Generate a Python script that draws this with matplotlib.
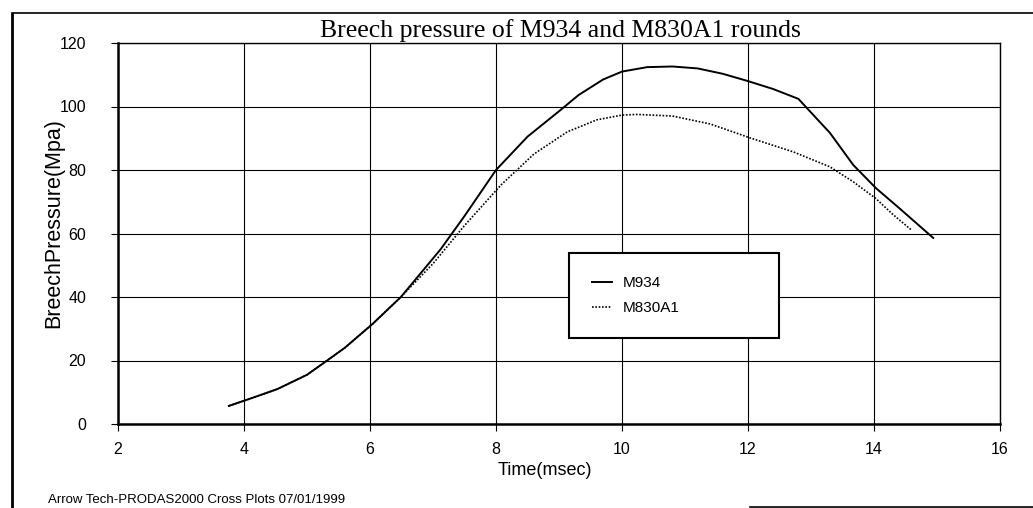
import matplotlib.pyplot as plt
from matplotlib.lines import Line2D

# tid (msec) og trykk (Mpa) lest av bildet
t_m934 = [3.76, 4.1, 4.53, 5.0, 5.32, 5.6, 6.04, 6.49, 7.12, 7.5, 8.0, 8.5, 9.0, 9.31,
          9.7, 10.0, 10.4, 10.8, 11.2, 11.6, 12.0, 12.4, 12.8, 13.3, 13.67, 14.03, 14.4, 14.94]
p_m934 = [5.7, 8.0, 11.0, 15.5, 20.0, 24.0, 31.5, 40.0, 55.0, 65.5, 80.0, 90.5, 98.5, 103.6,
          108.5, 111.0, 112.4, 112.6, 112.0, 110.3, 108.0, 105.5, 102.4, 91.7, 81.6, 74.3, 68.0, 58.6]

t_m830 = [3.76, 4.1, 4.53, 5.0, 5.32, 5.6, 6.04, 6.49, 7.0, 7.5, 8.08, 8.6, 9.13, 9.6,
          10.0, 10.24, 10.8, 11.4, 12.05, 12.72, 13.3, 13.67, 14.03, 14.3, 14.6]
p_m830 = [5.7, 8.0, 11.0, 15.5, 20.0, 24.0, 31.5, 40.0, 50.5, 62.5, 75.3, 85.0, 92.0, 95.8,
          97.3, 97.5, 97.0, 94.5, 90.0, 85.7, 81.0, 76.3, 71.0, 66.0, 61.0]

x_ticks = [2, 4, 6, 8, 10, 12, 14, 16]
y_ticks = [0, 20, 40, 60, 80, 100, 120]

fig = plt.figure(figsize=(10.33, 5.08), dpi=100)
ax = fig.add_axes([118 / 1033, 1 - 424 / 508, 882 / 1033, 381 / 508])

ax.plot(t_m934, p_m934, color="black", linewidth=1.4, label="M934")
ax.plot(t_m830, p_m830, color="black", linewidth=1.2, linestyle=(0, (1, 1)), label="M830A1")

ax.set_xlim(2, 16)
ax.set_ylim(0, 120)
ax.set_xticks(x_ticks)
ax.set_yticks(y_ticks)
ax.grid(True, color="black", linewidth=0.8)
ax.tick_params(direction="out", length=5, labelsize=11.5, color="black")
ax.tick_params(axis="y", pad=18)
ax.tick_params(axis="x", pad=8)
for lab in ax.get_xticklabels() + ax.get_yticklabels():
    lab.set_family("Liberation Sans")
for side in ["left", "bottom"]:
    ax.spines[side].set_linewidth(1.8)
for side in ["right", "top"]:
    ax.spines[side].set_linewidth(1.0)

ax.set_xlabel("Time(msec)", fontsize=13, family="Liberation Sans")
ax.xaxis.set_label_coords((545 - 118) / 882, (424 - 462) / 381)
ax.set_ylabel("BreechPressure(Mpa)", fontsize=15.5, family="Liberation Sans")
ax.yaxis.set_label_coords((64 - 118) / 882, (424 - 223) / 381)

fig.text(560 / 1033, 1 - 31 / 508, "Breech pressure of M934 and M830A1 rounds",
         ha="center", va="center", fontsize=18.5, family="Liberation Serif")

leg = ax.legend(loc="upper left", bbox_to_anchor=((569 - 118) / 882, (424 - 253) / 381,
                210 / 882, 0.0), mode="expand", fancybox=False, framealpha=1,
                edgecolor="black", handlelength=1.3, handletextpad=0.7, borderpad=1.5,
                labelspacing=0.75, borderaxespad=0,
                prop={"family": "Liberation Sans", "size": 11})
leg.get_frame().set_linewidth(1.5)

fig.text(48 / 1033, 1 - 500 / 508, "Arrow Tech-PRODAS2000 Cross Plots 07/01/1999",
         ha="left", va="center", fontsize=9.5, family="Liberation Sans")

# ytre ramme
fig.add_artist(Line2D([12 / 1033, 12 / 1033], [1 - 14 / 508, 0], color="black",
                      linewidth=2, transform=fig.transFigure))
fig.add_artist(Line2D([12 / 1033, 1], [1 - 13 / 508, 1 - 13 / 508], color="black",
                      linewidth=1.2, transform=fig.transFigure))
fig.add_artist(Line2D([750 / 1033, 1], [1 - 507 / 508, 1 - 507 / 508], color="black",
                      linewidth=1.2, transform=fig.transFigure))

fig.savefig("out.png", dpi=100)
